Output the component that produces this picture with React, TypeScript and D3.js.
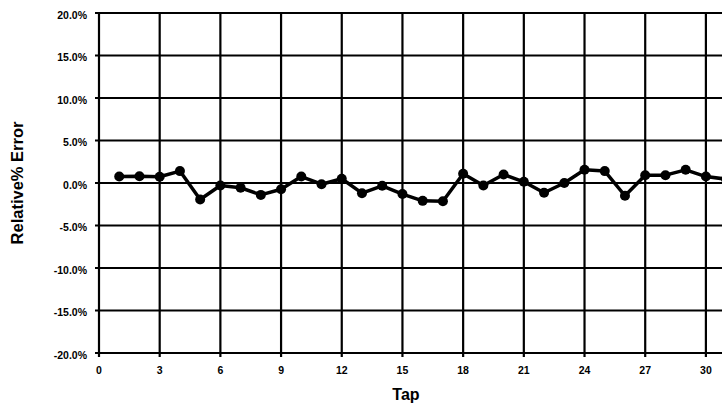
import React from "react";
import * as d3 from "d3";

const taps = [1, 2, 3, 4, 5, 6, 7, 8, 9, 10, 11, 12, 13, 14, 15, 16, 17, 18, 19, 20, 21, 22, 23, 24, 25, 26, 27, 28, 29, 30, 31];
const errors = [0.76, 0.8, 0.73, 1.4, -1.94, -0.3, -0.56, -1.4, -0.73, 0.76, -0.14, 0.5, -1.2, -0.33, -1.3, -2.1, -2.14, 1.08, -0.3, 1.0, 0.14, -1.15, 0.0, 1.55, 1.4, -1.5, 0.92, 0.92, 1.55, 0.76, 0.45];
const xTicks = [0, 3, 6, 9, 12, 15, 18, 21, 24, 27, 30];
const yTicks = [-20, -15, -10, -5, 0, 5, 10, 15, 20];

const W = 722;
const H = 408;
const left = 99;
const top = 13;
const bottom = 353;
const font = "'Liberation Sans', Arial, Helvetica, sans-serif";

export default function App() {
  const x = d3.scaleLinear().domain([0, 33]).range([left, left + 33 * 20.23]);
  const y = d3.scaleLinear().domain([-20, 20]).range([bottom, top]);
  const line = d3
    .line<number>()
    .x((_, i) => x(taps[i]))
    .y((d) => y(d));
  const right = W + 5;
  return (
    <svg
      width={W}
      height={H}
      style={{ position: "absolute", left: 0, top: 0, background: "#fff" }}
      fontFamily={font}
      fontWeight="bold"
    >
      <defs>
        <clipPath id="plot">
          <rect x={left - 10} y={0} width={W} height={H} />
        </clipPath>
      </defs>
      {yTicks.map((t) => (
        <line key={"h" + t} x1={left - 4} x2={right} y1={y(t)} y2={y(t)} stroke="#000" strokeWidth={2.2} />
      ))}
      {xTicks.map((t) => (
        <line key={"v" + t} x1={x(t)} x2={x(t)} y1={top} y2={bottom + 4} stroke="#000" strokeWidth={2.2} />
      ))}
      {yTicks.map((t) => (
        <text key={"yl" + t} x={87} y={y(t) + 3} textAnchor="end" dominantBaseline="middle" fontSize={10.5}>
          {t.toFixed(1) + "%"}
        </text>
      ))}
      {xTicks.map((t) => (
        <text key={"xl" + t} x={x(t)} y={374} textAnchor="middle" fontSize={10.5}>
          {t}
        </text>
      ))}
      <g clipPath="url(#plot)">
        <path d={line(errors) || ""} fill="none" stroke="#000" strokeWidth={3.5} strokeLinejoin="round" />
        {errors.map((d, i) => (
          <circle key={"p" + i} cx={x(taps[i])} cy={y(d)} r={5} fill="#000" />
        ))}
      </g>
      <text x={406} y={400} textAnchor="middle" fontSize={16}>
        Tap
      </text>
      <text
        transform={`translate(23, ${(top + bottom) / 2}) rotate(-90)`}
        textAnchor="middle"
        fontSize={16.5}
      >
        Relative% Error
      </text>
    </svg>
  );
}
